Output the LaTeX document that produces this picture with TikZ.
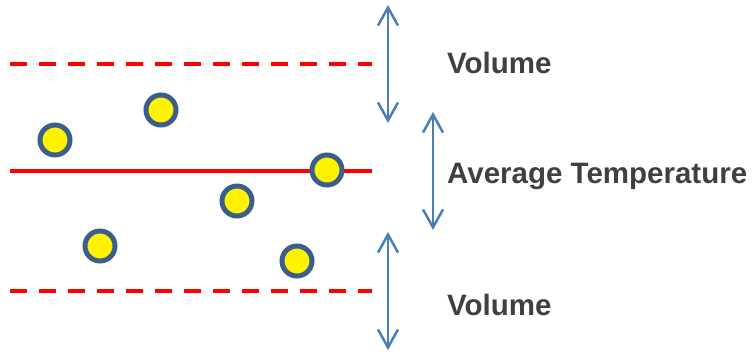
\documentclass[tikz,border=0pt]{standalone}
\usepackage{fontspec}
\setmainfont{Liberation Sans}
\usetikzlibrary{arrows.meta}
\definecolor{arrowblue}{HTML}{4A7EBB}
\definecolor{rimblue}{HTML}{3A5F8C}
\definecolor{textgray}{HTML}{404040}

\begin{document}
\begin{tikzpicture}[x=1pt,y=-1pt,
  particle/.style={circle,draw=rimblue,fill=yellow,line width=5pt,minimum size=30pt,inner sep=0pt},
  redline/.style={red,line width=4pt},
  spanarrow/.style={arrowblue,line width=2.5pt,{Straight Barb[length=18pt,width=20pt]}-{Straight Barb[length=18pt,width=20pt]}},
  quantity/.style={textgray,font=\fontsize{29.5}{34}\selectfont\bfseries,anchor=base west,inner sep=0pt}]
  \useasboundingbox (0,0) rectangle (754,351);

  \pgfmathsetmacro{\lineStart}{10}
  \pgfmathsetmacro{\lineEnd}{372}

  % Grenzen
  \draw[redline,dash pattern=on 17pt off 12pt] (\lineStart,64) -- (\lineEnd,64);
  \draw[redline] (\lineStart,171) -- (\lineEnd,171);
  \draw[redline,dash pattern=on 17pt off 12pt] (\lineStart,291) -- (\lineEnd,291);

  % Teilchen
  \node[particle] (p1) at (55,140) {};
  \node[particle] (p2) at (161,110) {};
  \node[particle] (p3) at (327,170) {};
  \node[particle] (p4) at (237,201) {};
  \node[particle] (p5) at (100,246) {};
  \node[particle] (p6) at (297,261) {};

  % Pfeile
  \coordinate (volTopA) at (388,5);
  \coordinate (volTopB) at (388,123);
  \coordinate (avgA) at (433,112);
  \coordinate (avgB) at (433,230);
  \coordinate (volBotA) at (388,232);
  \coordinate (volBotB) at (388,350);
  \draw[spanarrow] (volTopA) -- (volTopB);
  \draw[spanarrow] (avgA) -- (avgB);
  \draw[spanarrow] (volBotA) -- (volBotB);

  % Beschriftung
  \node[quantity] (volTop) at (447,73) {Volume};
  \node[quantity] (avgTemp) at (447,183) {Average Temperature};
  \node[quantity] (volBot) at (447,315) {Volume};
\end{tikzpicture}
\end{document}
